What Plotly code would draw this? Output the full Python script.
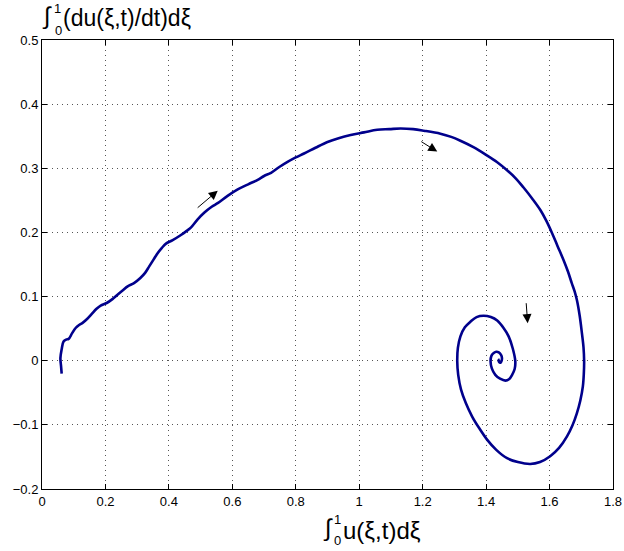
import plotly.graph_objects as go

# Trajectory data
u_int = [0.062, 0.060, 0.058, 0.062, 0.068, 0.076, 0.084, 0.095, 0.106, 0.118, 0.128, 0.142,
         0.157, 0.172, 0.185, 0.204, 0.222, 0.238, 0.255, 0.270, 0.290, 0.310, 0.325, 0.338,
         0.352, 0.365, 0.378, 0.392, 0.412, 0.438, 0.455, 0.470, 0.490, 0.512, 0.535, 0.555,
         0.585, 0.617, 0.650, 0.680, 0.700, 0.722, 0.748, 0.774, 0.800, 0.826, 0.862, 0.900,
         0.935, 0.973, 1.015, 1.057, 1.095, 1.130, 1.170, 1.204, 1.256, 1.290, 1.319, 1.360,
         1.400, 1.435, 1.466, 1.494, 1.518, 1.545, 1.571, 1.590, 1.607, 1.625, 1.644, 1.658,
         1.670, 1.679, 1.686, 1.695, 1.702, 1.707, 1.709, 1.708, 1.705, 1.697, 1.686, 1.672,
         1.655, 1.630, 1.602, 1.570, 1.539, 1.500, 1.466, 1.432, 1.403, 1.378, 1.356, 1.336,
         1.321, 1.312, 1.309, 1.311, 1.319, 1.333, 1.351, 1.370, 1.392, 1.415, 1.435, 1.455,
         1.471, 1.484, 1.492, 1.490, 1.482, 1.472, 1.461, 1.444, 1.429, 1.418, 1.414, 1.417,
         1.424, 1.432, 1.440, 1.447, 1.450, 1.448, 1.445, 1.441, 1.440, 1.443]
du_int = [-0.020, -0.008, 0.004, 0.018, 0.030, 0.033, 0.034, 0.043, 0.051, 0.056, 0.059, 0.065,
          0.073, 0.081, 0.086, 0.090, 0.096, 0.103, 0.110, 0.116, 0.121, 0.129, 0.137, 0.147,
          0.158, 0.168, 0.176, 0.183, 0.188, 0.196, 0.202, 0.208, 0.220, 0.231, 0.240, 0.246,
          0.257, 0.267, 0.275, 0.282, 0.288, 0.293, 0.302, 0.310, 0.317, 0.323, 0.332, 0.341,
          0.347, 0.352, 0.356, 0.360, 0.361, 0.362, 0.361, 0.3586, 0.354, 0.349, 0.343, 0.333,
          0.321, 0.3095, 0.297, 0.284, 0.270, 0.253, 0.235, 0.218, 0.200, 0.179, 0.157, 0.139,
          0.121, 0.108, 0.095, 0.070, 0.043, 0.021, -0.001, -0.020, -0.040, -0.062, -0.082, -0.101,
          -0.118, -0.136, -0.149, -0.158, -0.161, -0.158, -0.152, -0.139, -0.123, -0.105, -0.087, -0.066,
          -0.045, -0.022, -0.001, 0.020, 0.038, 0.052, 0.061, 0.068, 0.070, 0.068, 0.0626, 0.051,
          0.038, 0.019, -0.001, -0.013, -0.022, -0.029, -0.031, -0.028, -0.022, -0.012, -0.001, 0.008,
          0.012, 0.014, 0.013, 0.009, 0.004, -0.001, -0.003, -0.002, 0.001, 0.002]

# Direction arrows: (tail_x, tail_y, head_x, head_y)
arrow_tail_x = [0.486, 1.191, 1.526]
arrow_tail_y = [0.2366, 0.343, 0.092]
arrow_head_x = [0.554, 1.246, 1.531]
arrow_head_y = [0.265, 0.326, 0.0586]

x_ticks = [0, 0.2, 0.4, 0.6, 0.8, 1.0, 1.2, 1.4, 1.6, 1.8]
x_tick_labels = ["0", "0.2", "0.4", "0.6", "0.8", "1", "1.2", "1.4", "1.6", "1.8"]
y_ticks = [-0.2, -0.1, 0, 0.1, 0.2, 0.3, 0.4, 0.5]
y_tick_labels = ["\u22120.2", "\u22120.1", "0", "0.1", "0.2", "0.3", "0.4", "0.5"]

W, H = 624, 551
L, R, T, B = 42, 11, 40, 62
FONT = "Liberation Sans, Arial, sans-serif"

fig = go.Figure()
fig.add_trace(go.Scatter(x=u_int, y=du_int, mode="lines",
                         line=dict(color="rgb(0,0,140)", width=2.6, shape="spline", smoothing=1.0),
                         hoverinfo="skip", showlegend=False))

annotations = []
for tx, ty, hx, hy in zip(arrow_tail_x, arrow_tail_y, arrow_head_x, arrow_head_y):
    annotations.append(dict(x=hx, y=hy, ax=tx, ay=ty, xref="x", yref="y", axref="x", ayref="y",
                            text="", showarrow=True, arrowhead=2, arrowsize=1.8, arrowwidth=1,
                            arrowcolor="black"))

def paper(px, py):
    return (px - L) / (W - L - R), (H - B - py) / (H - T - B)

def txt(s, px, py, size):
    x, y = paper(px, py)
    annotations.append(dict(x=x, y=y, xref="paper", yref="paper", text=s, showarrow=False,
                            xanchor="left", yanchor="middle",
                            font=dict(family=FONT, size=size, color="black")))

# y-axis title (top left)
txt("\u222b", 40, 16, 24)
txt("1", 52, 9, 13)
txt("0", 53, 31, 13)
txt("(du(\u03be,t)/dt)d\u03be", 61, 18, 23)
# x-axis title (bottom)
txt("\u222b", 321, 528, 24)
txt("1", 332, 519, 13)
txt("0", 332, 540, 13)
txt("u(\u03be,t)d\u03be", 341, 530, 24)

axis_common = dict(showline=True, linecolor="black", linewidth=1, mirror="ticks",
                   ticks="inside", ticklen=5, tickcolor="black", showgrid=True,
                   gridcolor="#555555", griddash="1px,4px", gridwidth=1, zeroline=False,
                   automargin=False,
                   tickfont=dict(family=FONT, size=13, color="black"))

fig.update_xaxes(range=[0, 1.8], tickvals=x_ticks, ticktext=x_tick_labels, **axis_common)
fig.update_yaxes(range=[-0.2, 0.5], tickvals=y_ticks, ticktext=y_tick_labels, **axis_common)

fig.update_layout(width=W, height=H, margin=dict(l=L, r=R, t=T, b=B, pad=0, autoexpand=False),
                  paper_bgcolor="white", plot_bgcolor="white", annotations=annotations,
                  font=dict(family=FONT))

fig.write_html("out.html", config={"displayModeBar": False},
               post_script="document.body.style.margin='0';document.body.style.padding='0';"
                           "document.body.style.overflow='hidden';")
